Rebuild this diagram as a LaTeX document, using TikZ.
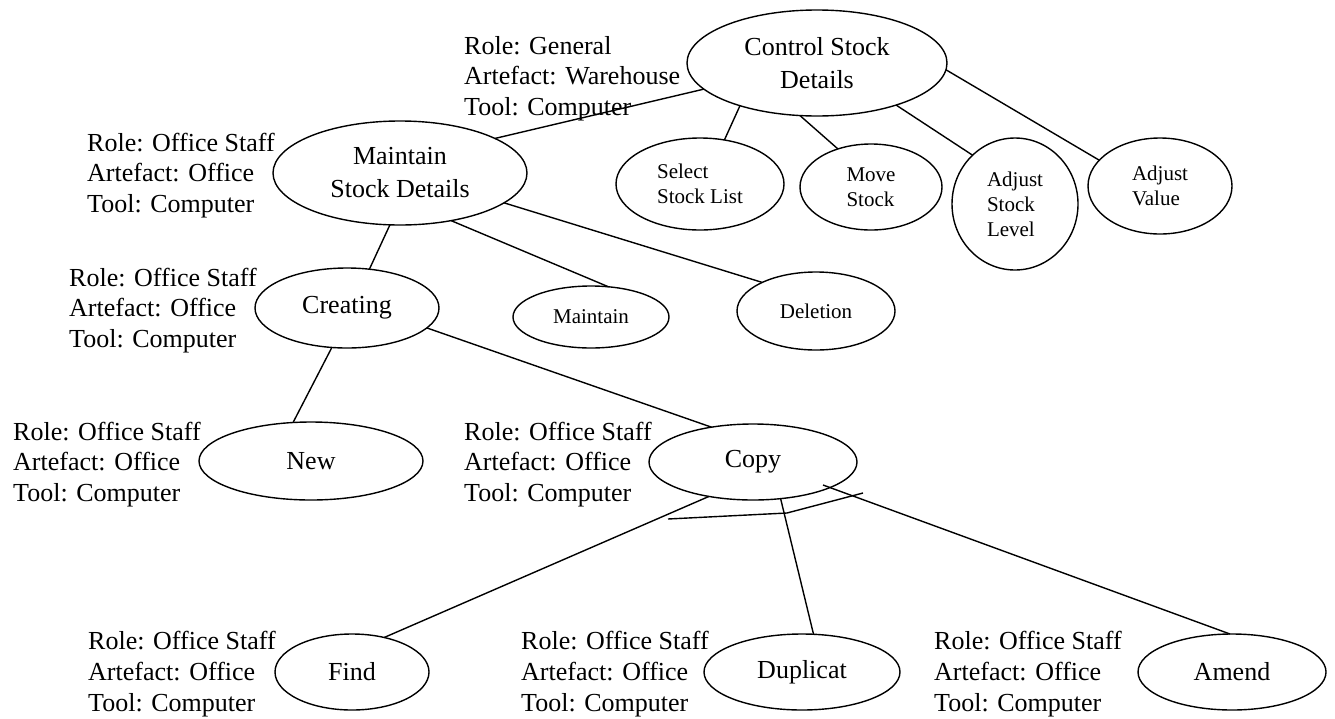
\documentclass[tikz,border=0pt]{standalone}
\usepackage{fontspec}
\setmainfont{Liberation Serif}
\usetikzlibrary{shapes.geometric}
\begin{document}
\begin{tikzpicture}[x=1pt,y=-1pt,
  task/.style={ellipse,draw,line width=1.4pt,inner sep=0pt,outer sep=0pt,align=center},
  big/.style={font=\fontsize{26}{33}\selectfont},
  small/.style={font=\fontsize{21}{25}\selectfont,align=left},
  lbl/.style={font=\fontsize{26}{30.7}\selectfont,align=left,anchor=base west,inner sep=0pt},
  link/.style={line width=1.4pt}]
\useasboundingbox (0,0) rectangle (1335,718);

% task ellipses
\node[task,big,minimum width=260pt,minimum height=106pt] (control) at (817,63) {Control Stock\\Details};
\node[task,big,minimum width=254pt,minimum height=104pt] (maint) at (400,173) {Maintain\\Stock Details};
\node[task,small,minimum width=168pt,minimum height=92pt] (select) at (700,184) {Select\\Stock List};
\node[task,small,minimum width=142pt,minimum height=86pt] (move) at (871,187) {Move\\Stock};
\node[task,small,minimum width=126pt,minimum height=132pt] (adjlevel) at (1015,204) {Adjust\\Stock\\Level};
\node[task,small,minimum width=144pt,minimum height=96pt] (adjvalue) at (1160,186) {Adjust\\Value};
\node[task,big,minimum width=184pt,minimum height=80pt] (creating) at (347,308) {Creating};
\node[task,small,minimum width=156pt,minimum height=62pt] (maintain) at (591,317) {Maintain};
\node[task,small,minimum width=158pt,minimum height=78pt] (deletion) at (816,311) {Deletion};
\node[task,big,minimum width=224pt,minimum height=78pt] (new) at (311,461) {New};
\node[task,big,minimum width=208pt,minimum height=76pt] (copy) at (753,462) {Copy};
\node[task,big,minimum width=154pt,minimum height=76pt] (find) at (352,672) {Find};
\node[task,big,minimum width=196pt,minimum height=76pt] (dup) at (802,672) {Duplicat};
\node[task,big,minimum width=188pt,minimum height=76pt] (amend) at (1232,672) {Amend};

% annotation labels (anchor = baseline of last line)
\node[lbl] (l1) at (464,115.4) {Role: General\\Artefact: Warehouse\\Tool: Computer};
\node[lbl] (l2) at (87,212.4) {Role: Office Staff\\Artefact: Office\\Tool: Computer};
\node[lbl] (l3) at (69,347.4) {Role: Office Staff\\Artefact: Office\\Tool: Computer};
\node[lbl] (l4) at (13,501.4) {Role: Office Staff\\Artefact: Office\\Tool: Computer};
\node[lbl] (l5) at (464,501.4) {Role: Office Staff\\Artefact: Office\\Tool: Computer};
\node[lbl] (l6) at (88,711) {Role: Office Staff\\Artefact: Office\\Tool: Computer};
\node[lbl] (l7) at (521,711) {Role: Office Staff\\Artefact: Office\\Tool: Computer};
\node[lbl] (l8) at (934,711) {Role: Office Staff\\Artefact: Office\\Tool: Computer};

% free ends
\coordinate (cA) at (823,485);
\coordinate (s1) at (668,519);
\coordinate (s2) at (787,513);
\coordinate (s3) at (863,493);

% connectors
\draw[link] (control.193.9) -- (maint.20.6);
\draw[link] (control.209.4) -- (select.61.9);
\draw[link] (control.252.5) -- (move.131);
\draw[link] (control.332.3) -- (adjlevel.131.4);
\draw[link] (control.357.3) -- (adjvalue.157.7);
\draw[link] (maint.259) -- (creating.60.4);
\draw[link] (maint.317) -- (maintain.60.5);
\draw[link] (maint.344.4) -- (deletion.152.2);
\draw[link] (creating.249) -- (new.115.3);
\draw[link] (creating.346) -- (copy.140.4);
\draw[link] (copy.218.4) -- (find.47.4);
\draw[link] (copy.307.3) -- (dup.73.4);
\draw[link] (cA) -- (amend.93);
\draw[link] (s1) -- (s2) -- (s3);
\end{tikzpicture}
\end{document}
